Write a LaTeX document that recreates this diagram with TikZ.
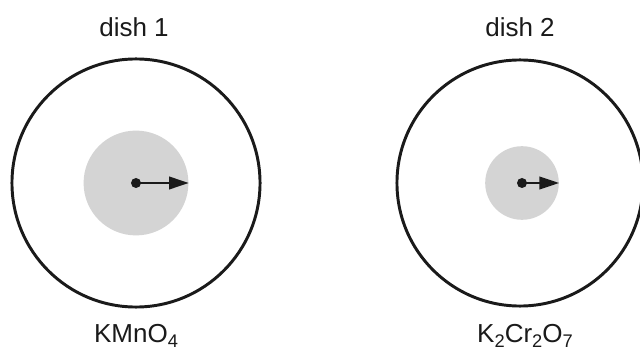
\documentclass[tikz,border=0pt]{standalone}
\usepackage{fontspec}
\setmainfont{Liberation Sans}
\usepackage{tikz}
\usetikzlibrary{arrows.meta,positioning}
\definecolor{spotGray}{HTML}{D4D4D4}
\definecolor{ink}{HTML}{1A1A1A}
\newcommand{\chemsub}[1]{\raisebox{-0.35ex}{\fontsize{13}{13}\selectfont #1}}

\begin{document}
\begin{tikzpicture}[
  x=0.025cm, y=-0.025cm,
  label/.style={font=\fontsize{18.5}{20}\selectfont, text=ink, anchor=base},
  dish/.style={circle, draw=ink, line width=2.1pt, fill=white, inner sep=0pt},
  spot/.style={circle, fill=spotGray, inner sep=0pt},
  centre/.style={circle, fill=ink, minimum size=0.25cm, inner sep=0pt},
  arrow/.style={-{Triangle[length=14pt, width=9pt]}, line width=1.4pt, draw=ink}
]
\useasboundingbox (0,0) rectangle (640,354);

% ------------------------------------------------------------------
% Dish 1: KMnO4
% ------------------------------------------------------------------
\node[dish, minimum size=6.2cm] (dishone) at (136,183) {};
\node[spot, minimum size=2.62cm] (spotone) at (dishone.center) {};
\node[centre] (dotone) at (dishone.center) {};
\draw[arrow] (dotone.center) -- (spotone.east);
\node[label] (titleone) at (134,37) {dish 1};
\node[label] (chemone) at (136,343) {KMnO\chemsub{4}};

% ------------------------------------------------------------------
% Dish 2: K2Cr2O7
% ------------------------------------------------------------------
\node[dish, minimum size=6.15cm] (dishtwo) at (520,183) {};
\node[spot, minimum size=1.84cm] (spottwo) at (522,183) {};
\node[centre] (dottwo) at (spottwo.center) {};
\draw[arrow] (dottwo.center) -- (spottwo.east);
\node[label] (titletwo) at (520,37) {dish 2};
\node[label] (chemtwo) at (525,343) {K\chemsub{2}Cr\chemsub{2}O\chemsub{7}};

\end{tikzpicture}
\end{document}
